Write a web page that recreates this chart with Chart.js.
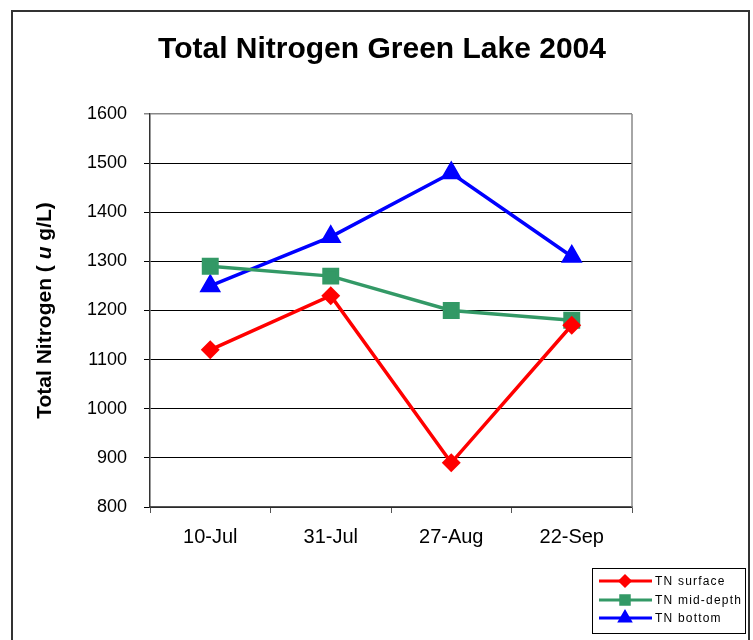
<!DOCTYPE html>
<html>
<head>
<meta charset="utf-8">
<script src="https://cdn.jsdelivr.net/npm/chart.js@4"></script>
<style>
  html, body { margin: 0; padding: 0; background: #fff; }
  #wrap { width: 753px; height: 640px; position: relative; }
</style>
</head>
<body>
<div id="wrap"><canvas id="tnChart"></canvas></div>
<script>
// === DATA ===
const dates = ['10-Jul', '31-Jul', '27-Aug', '22-Sep'];
const tnSurface = [1120, 1230, 890, 1170];
const tnMidDepth = [1290, 1270, 1200, 1180];
const tnBottom = [1250, 1350, 1480, 1310];
const yTicks = [800, 900, 1000, 1100, 1200, 1300, 1400, 1500, 1600];

const FONT = "'Liberation Sans', Arial, sans-serif";

// y title with italic "u", drawn in pieces
const yTitleParts = [
  { text: 'Total Nitrogen ( ', font: 'bold 21px ' + FONT },
  { text: 'u', font: 'italic bold 21px ' + FONT },
  { text: ' g/L)', font: 'bold 21px ' + FONT }
];

// frame, titles, plot border and the boxed legend (Excel style)
const excelLook = {
  id: 'excelLook',
  beforeDraw(chart) {
    const ctx = chart.ctx;
    ctx.save();
    ctx.fillStyle = '#fff';
    ctx.fillRect(0, 0, chart.width, chart.height);
    ctx.strokeStyle = '#333';
    ctx.lineWidth = 2;
    ctx.strokeRect(12, 11, 737, 700);
    ctx.restore();
  },
  afterDraw(chart) {
    const ctx = chart.ctx;
    const a = chart.chartArea;
    ctx.save();
    // title
    ctx.fillStyle = '#000';
    ctx.font = 'bold 30px ' + FONT;
    ctx.textAlign = 'center';
    ctx.textBaseline = 'middle';
    ctx.fillText('Total Nitrogen Green Lake 2004', 382, 50);

    // y axis title, rotated
    ctx.save();
    ctx.translate(45, (a.top + a.bottom) / 2);
    ctx.rotate(-Math.PI / 2);
    ctx.textAlign = 'left';
    let total = 0;
    yTitleParts.forEach(p => { ctx.font = p.font; total += ctx.measureText(p.text).width; });
    let x = -total / 2;
    yTitleParts.forEach(p => {
      ctx.font = p.font;
      ctx.fillText(p.text, x, 0);
      x += ctx.measureText(p.text).width;
    });
    ctx.restore();

    // right plot border
    ctx.strokeStyle = '#888';
    ctx.lineWidth = 1.5;
    ctx.beginPath();
    ctx.moveTo(a.right, a.top);
    ctx.lineTo(a.right, a.bottom);
    ctx.stroke();

    // legend
    ctx.fillStyle = '#fff';
    ctx.fillRect(592, 568, 153, 65);
    ctx.strokeStyle = '#000';
    ctx.lineWidth = 1;
    ctx.strokeRect(592.5, 568.5, 153, 65);
    const rows = [581, 600, 618];
    ctx.font = '12px ' + FONT;
    ctx.textAlign = 'left';
    ctx.letterSpacing = '1.2px';
    chart.data.datasets.forEach((ds, i) => {
      const y = rows[i];
      ctx.strokeStyle = ds.borderColor;
      ctx.lineWidth = 3;
      ctx.beginPath();
      ctx.moveTo(599, y);
      ctx.lineTo(652, y);
      ctx.stroke();
      ctx.fillStyle = ds.borderColor;
      Chart.helpers.drawPoint(ctx, {
        pointStyle: ds.pointStyle,
        radius: ds.legendRadius,
        borderWidth: 1,
        rotation: 0
      }, 625, y);
      ctx.fillStyle = '#000';
      ctx.fillText(ds.label, 655, y + 1);
    });
    ctx.restore();
  }
};

const ctx = document.getElementById('tnChart').getContext('2d');

new Chart(ctx, {
  type: 'line',
  data: {
    labels: dates,
    datasets: [
      {
        label: 'TN surface',
        data: tnSurface,
        borderColor: '#ff0000',
        backgroundColor: '#ff0000',
        borderWidth: 3.5,
        pointStyle: 'rectRot',
        pointRadius: 7,
        legendRadius: 5,
        tension: 0
      },
      {
        label: 'TN mid-depth',
        data: tnMidDepth,
        borderColor: '#339966',
        backgroundColor: '#339966',
        borderWidth: 3.5,
        pointStyle: 'rect',
        pointRadius: 9.5,
        legendRadius: 6,
        tension: 0
      },
      {
        label: 'TN bottom',
        data: tnBottom,
        borderColor: '#0000ff',
        backgroundColor: '#0000ff',
        borderWidth: 3.5,
        pointStyle: 'triangle',
        pointRadius: 9,
        legendRadius: 6,
        tension: 0
      }
    ]
  },
  options: {
    responsive: true,
    maintainAspectRatio: false,
    animation: false,
    layout: { padding: { top: 114, right: 121, bottom: 0, left: 0 } },
    plugins: {
      legend: { display: false },
      title: { display: false },
      tooltip: { enabled: false }
    },
    scales: {
      x: {
        offset: true,
        afterFit: s => { s.height = 133; },
        border: { color: '#555', width: 1.5 },
        grid: { offset: true, drawOnChartArea: false, tickLength: 6, color: '#555' },
        ticks: { color: '#000', padding: 12, font: { family: FONT, size: 20 } }
      },
      y: {
        min: 800,
        max: 1600,
        afterFit: s => { s.width = 150; },
        afterBuildTicks: s => { s.ticks = yTicks.map(v => ({ value: v })); },
        border: { color: '#333', width: 1.5 },
        grid: {
          tickLength: 6,
          color: c => (c.tick && c.tick.value === 1600) ? '#888' : '#000',
          lineWidth: c => (c.tick && c.tick.value === 1600) ? 1.5 : 1
        },
        ticks: {
          color: '#000',
          padding: 17,
          font: { family: FONT, size: 18 },
          callback: v => String(v)
        }
      }
    }
  },
  plugins: [excelLook]
});
</script>
</body>
</html>
